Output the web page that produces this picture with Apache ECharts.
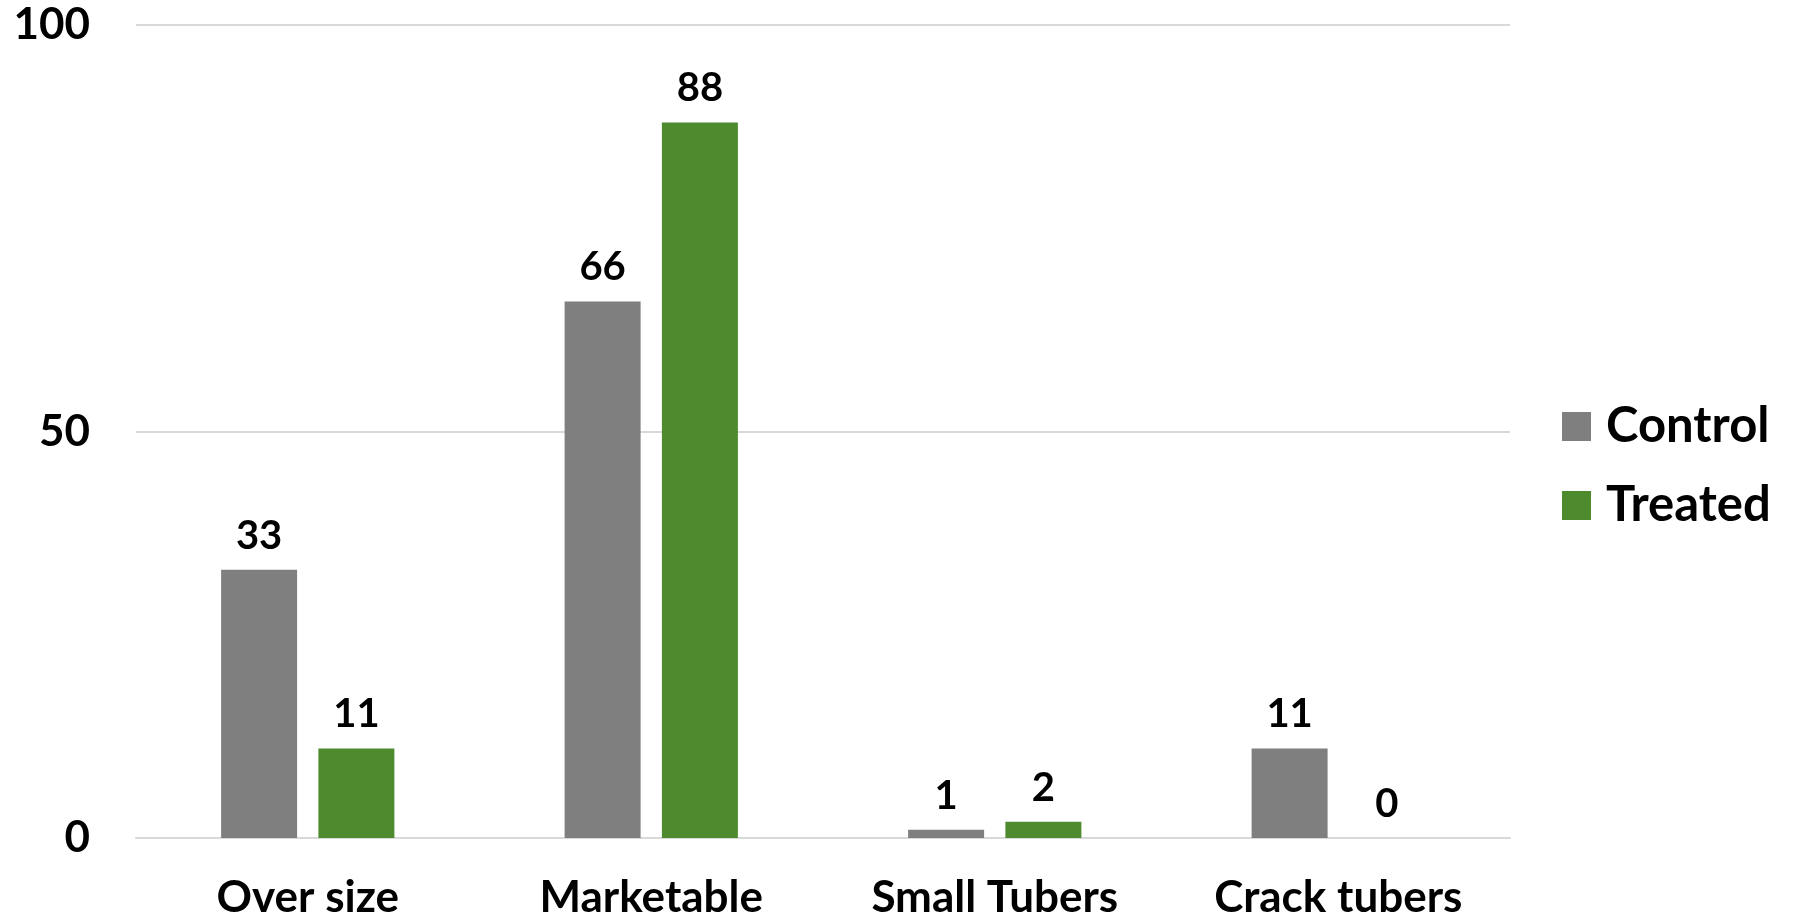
<!DOCTYPE html>
<html>
<head>
<meta charset="utf-8">
<script src="https://cdn.jsdelivr.net/npm/echarts@6/dist/echarts.min.js"></script>
<style>
html,body{margin:0;padding:0;background:#fff;}
#c{width:1803px;height:920px;}
</style>
</head>
<body>
<div id="c"></div>
<script>
var categories = ['Over size', 'Marketable', 'Small Tubers', 'Crack tubers'];
var controlValues = [33, 66, 1, 11];
var treatedValues = [11, 88, 2, 0];
var yTicks = [0, 50, 100];

var FONT = 'Lato';
var chart = echarts.init(document.getElementById('c'), null, {renderer: 'canvas'});
var labelStyle = {
  show: true, position: 'top', distance: 14,
  color: '#000', fontFamily: FONT, fontWeight: 'bold', fontSize: 40
};
chart.setOption({
  animation: false,
  backgroundColor: '#fff',
  grid: {left: 136, right: 293, top: 25, bottom: 82, containLabel: false},
  legend: {
    orient: 'vertical', left: 1557, top: 397,
    itemWidth: 29, itemHeight: 29, itemGap: 30,
    icon: 'rect',
    textStyle: {color: '#000', fontFamily: FONT, fontWeight: 'bold', fontSize: 49, lineHeight: 49, padding: [0,0,0,10]},
    data: ['Control', 'Treated']
  },
  xAxis: {
    type: 'category', data: categories,
    axisTick: {show: false},
    axisLine: {show: true, lineStyle: {color: '#D9D9D9', width: 2}},
    axisLabel: {color: '#000', fontFamily: FONT, fontWeight: 'bold', fontSize: 44, margin: 38}
  },
  yAxis: {
    type: 'value', min: yTicks[0], max: yTicks[yTicks.length-1], interval: 50,
    axisLine: {show: false}, axisTick: {show: false},
    splitLine: {lineStyle: {color: '#D9D9D9', width: 2}},
    axisLabel: {color: '#000', fontFamily: FONT, fontWeight: 'bold', fontSize: 44, margin: 46}
  },
  series: [
    {name: 'Control', type: 'bar', data: controlValues, barWidth: 76, barGap: '28%',
     itemStyle: {color: '#7F7F7F'}, label: labelStyle},
    {name: 'Treated', type: 'bar', data: treatedValues, barWidth: 76,
     itemStyle: {color: '#4E8B2E'}, label: labelStyle}
  ]
});
</script>
</body>
</html>
